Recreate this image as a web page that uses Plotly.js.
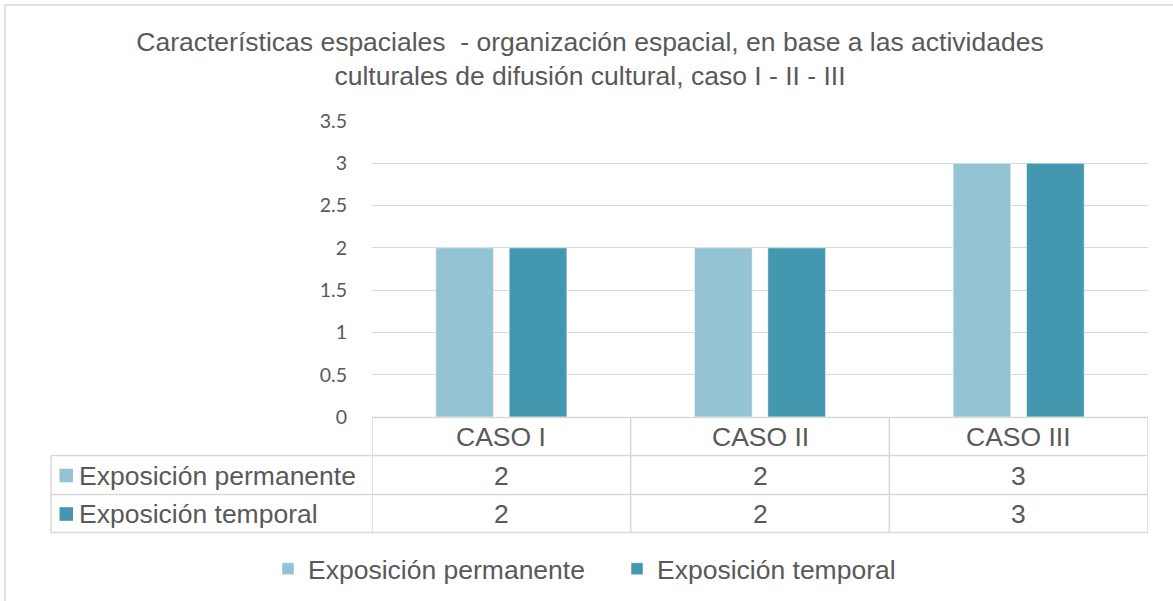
<!DOCTYPE html>
<html>
<head>
<meta charset="utf-8">
<script src="https://cdn.plot.ly/plotly-3.0.1.min.js"></script>
<style>html,body{margin:0;padding:0;background:#fff;}#chart{width:1173px;height:601px;}</style>
</head>
<body>
<div id="chart"></div>
<script>
// ---- data ----
const categories = ['CASO I', 'CASO II', 'CASO III'];
const seriesNames = ['Exposición permanente', 'Exposición temporal'];
const permanente = [2, 2, 3];
const temporal = [2, 2, 3];
const titleText = 'Características espaciales  - organización espacial, en base a las actividades<br>culturales de difusión cultural, caso I - II - III';
const yTickVals = [0, 0.5, 1, 1.5, 2, 2.5, 3, 3.5];

// ---- styling ----
const colors = ['#94C3D4', '#4398B0'];
const textColor = '#595959';
const gridColor = '#D9D9D9';
const W = 1173, H = 601;
const M = {l: 372, r: 25, t: 121, b: 184, autoexpand: false};
const plotW = W - M.l - M.r, plotH = H - M.t - M.b;
const px = v => (v - M.l) / plotW;          // pixel x -> paper x
const py = v => (H - M.b - v) / plotH;       // pixel y -> paper y

const seriesValues = [permanente, temporal];

const traces = seriesNames.map((name, i) => ({
  type: 'bar',
  name: name,
  x: categories,
  y: seriesValues[i],
  marker: {color: colors[i], line: {color: 'rgba(255,255,255,0.5)', width: 1}},
  hoverinfo: 'x+y+name'
}));

const shapes = [];
const annotations = [];
const lineStyle = {color: gridColor, width: 1.5};
// outer chart border
shapes.push({type: 'rect', xref: 'paper', yref: 'paper', x0: px(5), x1: px(1185), y0: py(612), y1: py(5), line: lineStyle});
// table horizontal lines
const yTop = py(417.5), yR1 = py(455.5), yR2 = py(494.5), yBot = py(532.5);
shapes.push({type: 'line', xref: 'x', yref: 'paper', x0: -0.5, x1: categories.length - 0.5, y0: yTop, y1: yTop, line: lineStyle});
[yR1, yR2, yBot].forEach(yy => {
  shapes.push({type: 'line', xref: 'paper', yref: 'paper', x0: px(51), x1: 1, y0: yy, y1: yy, line: lineStyle});
});
// vertical lines at category boundaries
for (let k = 0; k <= categories.length; k++) {
  shapes.push({type: 'line', xref: 'x', yref: 'paper', x0: k - 0.5, x1: k - 0.5, y0: yTop, y1: yBot, line: lineStyle});
}
shapes.push({type: 'line', xref: 'paper', yref: 'paper', x0: px(51), x1: px(51), y0: yR1, y1: yBot, line: lineStyle});

const tableFont = {family: 'Liberation Sans, Arial, sans-serif', size: 26.5, color: textColor};
// header row: categories
categories.forEach(c => {
  annotations.push({xref: 'x', yref: 'paper', x: c, y: py(437), text: c, showarrow: false, font: tableFont, xanchor: 'center', yanchor: 'middle'});
});
// series rows
const rowY = [py(475.5), py(514)];
seriesNames.forEach((name, i) => {
  shapes.push({type: 'rect', xref: 'paper', yref: 'paper', x0: px(59.5), x1: px(73), y0: rowY[i] - 6.8 / plotH, y1: rowY[i] + 6.8 / plotH, fillcolor: colors[i], line: {width: 0}});
  annotations.push({xref: 'paper', yref: 'paper', x: px(77), y: rowY[i], text: name, showarrow: false, font: tableFont, xanchor: 'left', yanchor: 'middle'});
  categories.forEach((c, j) => {
    annotations.push({xref: 'x', yref: 'paper', x: c, y: rowY[i], text: String(seriesValues[i][j]), showarrow: false, font: tableFont, xanchor: 'center', yanchor: 'middle'});
  });
});

const layout = {
  width: W, height: H,
  margin: M,
  paper_bgcolor: '#ffffff',
  plot_bgcolor: '#ffffff',
  title: {
    text: titleText,
    font: {family: 'Liberation Sans, Arial, sans-serif', size: 26.5, color: textColor},
    x: 590 / W, xanchor: 'center',
    y: 1 - 51 / H, yanchor: 'top', yref: 'container'
  },
  barmode: 'group',
  bargap: 0.4326,
  bargroupgap: 0.214,
  xaxis: {
    type: 'category',
    categoryarray: categories,
    showticklabels: false,
    showgrid: false,
    zeroline: false,
    showline: false,
    ticks: '',
    range: [-0.5, categories.length - 0.5]
  },
  yaxis: {
    range: [0, 3.5],
    tickvals: yTickVals,
    showgrid: true,
    gridcolor: gridColor,
    gridwidth: 1.3,
    zeroline: false,
    showline: false,
    ticks: '',
    ticklabelstandoff: 24,
    tickfont: {family: 'Lato, sans-serif', size: 19.5, color: textColor}
  },
  showlegend: true,
  legend: {
    orientation: 'h',
    x: px(268), xanchor: 'left',
    y: py(569), yanchor: 'middle',
    font: {family: 'Liberation Sans, Arial, sans-serif', size: 26.5, color: textColor},
    bgcolor: 'rgba(0,0,0,0)',
    itemwidth: 30,
    entrywidth: 304,
    entrywidthmode: 'pixels',
    traceorder: 'normal'
  },
  shapes: shapes,
  annotations: annotations
};

Plotly.newPlot('chart', traces, layout, {displayModeBar: false, responsive: false});
</script>
</body>
</html>
